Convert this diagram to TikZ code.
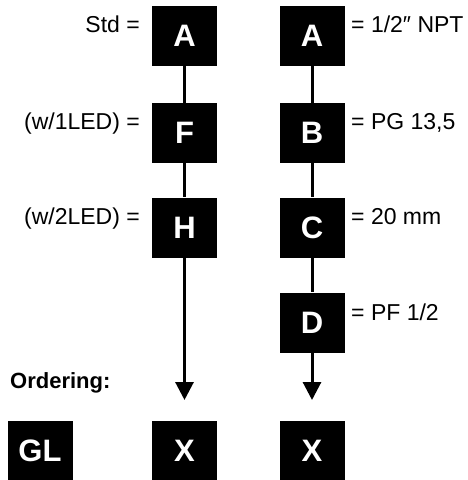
\documentclass[tikz,border=0pt]{standalone}
\usepackage{fontspec}
\setmainfont{Liberation Sans}
\usetikzlibrary{arrows.meta}
\tikzset{
  box/.style={fill=black, text=white, minimum width=65pt, minimum height=60pt, inner sep=0pt, font=\fontsize{31}{36}\selectfont\bfseries},
  lbll/.style={anchor=base east, inner sep=0pt, font=\fontsize{23}{27}\selectfont},
  lblr/.style={anchor=base west, inner sep=0pt, font=\fontsize{23}{27}\selectfont},
  conn/.style={line width=3pt},
  arr/.style={line width=3pt, -{Triangle[width=18pt,length=18pt]}}
}
\begin{document}
\begin{tikzpicture}[x=1pt,y=-1pt]
\useasboundingbox (0,0) rectangle (467,480);
% left column
\node[box] (LA) at (184.5,36) {A};
\node[box] (LF) at (184.5,133) {F};
\node[box] (LH) at (184.5,227.5) {H};
% right column
\node[box] (RA) at (312,36) {A};
\node[box] (RB) at (312,133) {B};
\node[box] (RC) at (312,227.5) {C};
\node[box] (RD) at (312,322.5) {D};
% bottom
\node[box] (GL) at (40,450.5) {GL};
\node[box] (X1) at (184.5,450.5) {X};
\node[box] (X2) at (312,450.5) {X};
% labels
\node[lbll] (l1) at (140,32) {Std =};
\node[lbll] (l2) at (140,129) {(w/1LED) =};
\node[lbll] (l3) at (140,224) {(w/2LED) =};
\node[lblr] (r1) at (351,32) {= 1/2″ NPT};
\node[lblr] (r2) at (351,129) {= PG 13,5};
\node[lblr] (r3) at (351,224) {= 20 mm};
\node[lblr] (r4) at (351,320) {= PF 1/2};
\node[anchor=base west, inner sep=0pt, font=\fontsize{22}{26}\selectfont\bfseries] (ord) at (10,388) {Ordering:};
% connectors
\coordinate (t1) at (184.5,400);
\coordinate (t2) at (312,400);
\draw[conn] (LA.south) -- (LF.north);
\draw[conn] (LF.south) -- (LH.north);
\draw[arr] (LH.south) -- (t1);
\draw[conn] (RA.south) -- (RB.north);
\draw[conn] (RB.south) -- (RC.north);
\draw[conn] (RC.south) -- (RD.north);
\draw[arr] (RD.south) -- (t2);
\end{tikzpicture}
\end{document}
